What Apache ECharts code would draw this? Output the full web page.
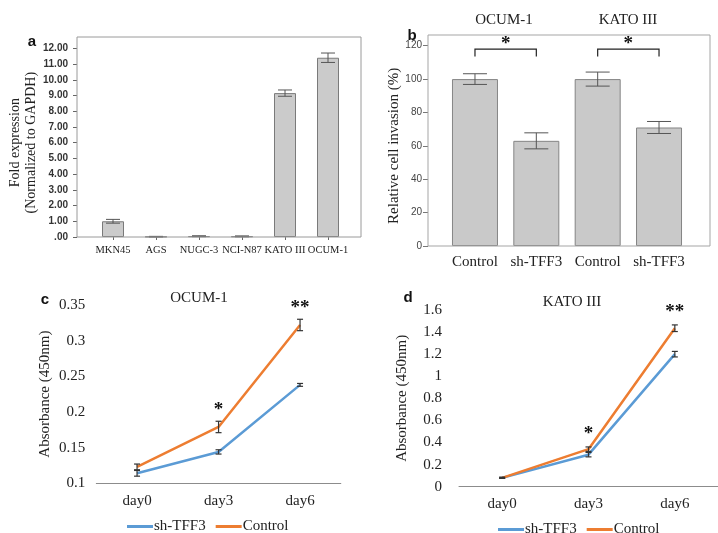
<!DOCTYPE html>
<html><head><meta charset="utf-8">
<script src="https://cdn.jsdelivr.net/npm/echarts@6/dist/echarts.min.js"></script>
<style>html,body{margin:0;padding:0;background:#fff}#c{width:718px;height:533px}</style>
</head><body><div id="c"></div>
<script>
// ---- data ----
const expCats = ['MKN45','AGS','NUGC-3','NCI-N87','KATO III','OCUM-1'];
const expVals = [1.0, 0.02, 0.05, 0.04, 9.15, 11.4];
const expErr  = [0.12, 0.02, 0.03, 0.03, 0.2, 0.3];

const invGroups = ['OCUM-1','KATO III'];
const invConds  = ['Control','sh-TFF3'];
const invVals = [100, 63, 100, 71];
const invErr  = [3.2, 4.8, 4.2, 3.6];
const invSig  = [[0,1,'*'],[2,3,'*']];

const days = ['day0','day3','day6'];
const ocumSh    = [0.114, 0.144, 0.238];
const ocumShErr = [0.004, 0.003, 0.002];
const ocumCtrl    = [0.123, 0.179, 0.322];
const ocumCtrlErr = [0.004, 0.008, 0.008];
const ocumStars = ['', '*', '**'];
const katoSh    = [0.08, 0.29, 1.20];
const katoShErr = [0.005, 0.02, 0.025];
const katoCtrl    = [0.08, 0.34, 1.435];
const katoCtrlErr = [0.005, 0.02, 0.03];
const katoStars = ['', '*', '**'];

const SERIF = '"Liberation Serif","Times New Roman",serif';
const SANS = '"Liberation Sans",Arial,sans-serif';
const BLUE = '#5b9bd5', ORANGE = '#ed7d31';

const invCats = [];
invGroups.forEach(g => invConds.forEach(c => invCats.push(g + '|' + c)));

function errData(vals, errs){ return vals.map((v,i)=>[i, v-errs[i], v+errs[i]]); }
function errSeries(idx, data, half, color, lw, z){
  return {type:'custom', xAxisIndex:idx, yAxisIndex:idx, z:z||5, silent:true,
    encode:{x:0,y:[1,2]}, data:data,
    renderItem:function(p, api){
      const x=api.value(0), lo=api.coord([x,api.value(1)]), hi=api.coord([x,api.value(2)]);
      const st={stroke:color, lineWidth:lw};
      return {type:'group', children:[
        {type:'line', shape:{x1:lo[0],y1:lo[1],x2:hi[0],y2:hi[1]}, style:st},
        {type:'line', shape:{x1:lo[0]-half,y1:lo[1],x2:lo[0]+half,y2:lo[1]}, style:st},
        {type:'line', shape:{x1:hi[0]-half,y1:hi[1],x2:hi[0]+half,y2:hi[1]}, style:st}
      ]};
    }};
}
function starSeries(idx, ctrl, err, stars, off){
  const data = stars.map((s,i)=>[i, ctrl[i]+err[i], s]);
  return {type:'custom', xAxisIndex:idx, yAxisIndex:idx, z:6, silent:true, clip:false,
    encode:{x:0,y:1}, data:data,
    renderItem:function(p, api){
      const s = stars[p.dataIndex]; if(!s) return null;
      const pt = api.coord([api.value(0), api.value(1)]);
      return {type:'text', x:pt[0], y:pt[1]-off, style:{text:s, font:'bold 19px '+SERIF, fill:'#111', align:'center', verticalAlign:'middle'}};
    }};
}

const chart = echarts.init(document.getElementById('c'), null, {renderer:'canvas'});
const option = {
  animation:false,
  backgroundColor:'#fff',
  grid:[
    {left:91.5, top:48.3, width:258, height:188.7},
    {left:444.3, top:45.7, width:245.4, height:200.3},
    {left:96.3, top:305, width:244.5, height:178.3},
    {left:459, top:310, width:261.6, height:176.7}
  ],
  xAxis:[
    {gridIndex:0, type:'category', data:expCats, axisLine:{show:false},
     axisTick:{show:true, alignWithLabel:true, length:3, lineStyle:{color:'#666'}},
     axisLabel:{fontFamily:SERIF, fontSize:10.5, color:'#222', margin:8, interval:0}},
    {gridIndex:1, type:'category', data:invCats, axisLine:{show:false}, axisTick:{show:false},
     axisLabel:{fontFamily:SERIF, fontSize:15, color:'#222', margin:9, interval:0, formatter:v=>v.split('|')[1]}},
    {gridIndex:2, type:'category', data:days, axisLine:{lineStyle:{color:'#8c8c8c', width:1}}, axisTick:{show:false},
     axisLabel:{fontFamily:SERIF, fontSize:15, color:'#222', margin:10}},
    {gridIndex:3, type:'category', data:days, axisLine:{lineStyle:{color:'#8c8c8c', width:1}}, axisTick:{show:false},
     axisLabel:{fontFamily:SERIF, fontSize:15, color:'#222', margin:10}}
  ],
  yAxis:[
    {gridIndex:0, type:'value', min:0, max:12, interval:1, offset:14.5,
     axisLine:{show:false}, splitLine:{show:false},
     axisTick:{show:true, length:4, lineStyle:{color:'#666'}},
     axisLabel:{fontFamily:SANS, fontWeight:'bold', fontSize:10, color:'#333', margin:9,
       formatter:v=>{const s=v.toFixed(2); return s.startsWith('0')?s.slice(1):s;}},
     name:'Fold expression\n(Normalized to GAPDH)', nameLocation:'middle', nameGap:36,
     nameTextStyle:{fontFamily:SERIF, fontSize:14, color:'#222', lineHeight:16}},
    {gridIndex:1, type:'value', min:0, max:120, interval:20, offset:16.3,
     axisLine:{show:false}, splitLine:{show:false},
     axisTick:{show:true, length:5, lineStyle:{color:'#777'}},
     axisLabel:{fontFamily:SANS, fontSize:10, color:'#444', margin:6},
     name:'Relative cell invasion (%)', nameLocation:'middle', nameGap:24,
     nameTextStyle:{fontFamily:SERIF, fontSize:15, color:'#222'}},
    {gridIndex:2, type:'value', min:0.1, max:0.35, interval:0.05,
     axisLine:{show:false}, splitLine:{show:false}, axisTick:{show:false},
     axisLabel:{fontFamily:SERIF, fontSize:15, color:'#222', margin:11, formatter:v=>String(parseFloat(v.toFixed(2)))},
     name:'Absorbance (450nm)', nameLocation:'middle', nameGap:44,
     nameTextStyle:{fontFamily:SERIF, fontSize:15, color:'#222'}},
    {gridIndex:3, type:'value', min:0, max:1.6, interval:0.2,
     axisLine:{show:false}, splitLine:{show:false}, axisTick:{show:false},
     axisLabel:{fontFamily:SERIF, fontSize:15, color:'#222', margin:17, formatter:v=>String(parseFloat(v.toFixed(1)))},
     name:'Absorbance (450nm)', nameLocation:'middle', nameGap:49,
     nameTextStyle:{fontFamily:SERIF, fontSize:15, color:'#222'}}
  ],
  legend:[
    {data:['sh-TFF3','Control'], left:122, top:514, itemWidth:26, itemHeight:3, itemGap:10, icon:'rect',
     textStyle:{fontFamily:SERIF, fontSize:15, color:'#222', padding:[0,0,0,-4]},
     selectedMode:false},
    {data:['sh-TFF3','Control'], left:493, top:517, itemWidth:26, itemHeight:3, itemGap:10, icon:'rect',
     textStyle:{fontFamily:SERIF, fontSize:15, color:'#222', padding:[0,0,0,-4]},
     selectedMode:false}
  ],
  series:[
    {type:'bar', xAxisIndex:0, yAxisIndex:0, data:expVals, barWidth:22,
     itemStyle:{color:'#cbcbcb', borderColor:'#7a7a7a', borderWidth:1}},
    errSeries(0, errData(expVals, expErr), 7, '#555', 1),
    {type:'bar', xAxisIndex:1, yAxisIndex:1, data:invVals, barWidth:46,
     itemStyle:{color:'#c9c9c9', borderColor:'#858585', borderWidth:1}},
    errSeries(1, errData(invVals, invErr), 12, '#555', 1),
    {type:'custom', xAxisIndex:1, yAxisIndex:1, z:6, silent:true, clip:false,
     encode:{x:[0,1]}, data:invSig,
     renderItem:function(p, api){
       const a=api.coord([api.value(0),118]), b=api.coord([api.value(1),118]);
       const d=api.coord([api.value(0),113.5]);
       const st={stroke:'#222', lineWidth:1.2, fill:null};
       return {type:'group', children:[
         {type:'polyline', shape:{points:[[a[0],d[1]],[a[0],a[1]],[b[0],b[1]],[b[0],d[1]]]}, style:st},
         {type:'text', x:(a[0]+b[0])/2, y:a[1]-5, style:{text:invSig[p.dataIndex][2], font:'bold 19px '+SERIF, fill:'#111', align:'center', verticalAlign:'middle'}}
       ]};
     }},
    {name:'sh-TFF3', type:'line', xAxisIndex:2, yAxisIndex:2, data:ocumSh, symbol:'none', color:BLUE, lineStyle:{width:2.5, color:BLUE}},
    {name:'Control', type:'line', xAxisIndex:2, yAxisIndex:2, data:ocumCtrl, symbol:'none', color:ORANGE, lineStyle:{width:2.5, color:ORANGE}},
    errSeries(2, errData(ocumSh, ocumShErr), 3, '#333', 1.2),
    errSeries(2, errData(ocumCtrl, ocumCtrlErr), 3, '#333', 1.2),
    starSeries(2, ocumCtrl, ocumCtrlErr, ocumStars, 11),
    {name:'sh-TFF3', type:'line', xAxisIndex:3, yAxisIndex:3, data:katoSh, symbol:'none', color:BLUE, lineStyle:{width:2.5, color:BLUE}},
    {name:'Control', type:'line', xAxisIndex:3, yAxisIndex:3, data:katoCtrl, symbol:'none', color:ORANGE, lineStyle:{width:2.5, color:ORANGE}},
    errSeries(3, errData(katoSh, katoShErr), 3, '#333', 1.2),
    errSeries(3, errData(katoCtrl, katoCtrlErr), 3, '#333', 1.2),
    starSeries(3, katoCtrl, katoCtrlErr, katoStars, 13)
  ],
  graphic:[
    {type:'rect', silent:true, z:10, shape:{x:77, y:37, width:284, height:200}, style:{fill:null, stroke:'#9a9a9a', lineWidth:1}},
    {type:'rect', silent:true, z:10, shape:{x:428, y:35, width:282, height:211}, style:{fill:null, stroke:'#a5a5a5', lineWidth:1}},
    {type:'text', x:32, y:42, style:{text:'a', font:'bold 15px '+SANS, fill:'#111', align:'center', verticalAlign:'middle'}},
    {type:'text', x:412, y:36, style:{text:'b', font:'bold 15px '+SANS, fill:'#111', align:'center', verticalAlign:'middle'}},
    {type:'text', x:45, y:300, style:{text:'c', font:'bold 15px '+SANS, fill:'#111', align:'center', verticalAlign:'middle'}},
    {type:'text', x:408, y:298, style:{text:'d', font:'bold 15px '+SANS, fill:'#111', align:'center', verticalAlign:'middle'}},
    {type:'text', x:504, y:20, style:{text:invGroups[0], font:'15px '+SERIF, fill:'#222', align:'center', verticalAlign:'middle'}},
    {type:'text', x:628, y:20, style:{text:invGroups[1], font:'15px '+SERIF, fill:'#222', align:'center', verticalAlign:'middle'}},
    {type:'text', x:199, y:298, style:{text:'OCUM-1', font:'15px '+SERIF, fill:'#222', align:'center', verticalAlign:'middle'}},
    {type:'text', x:572, y:302, style:{text:'KATO III', font:'15px '+SERIF, fill:'#222', align:'center', verticalAlign:'middle'}}
  ]
};
chart.setOption(option);
</script></body></html>
